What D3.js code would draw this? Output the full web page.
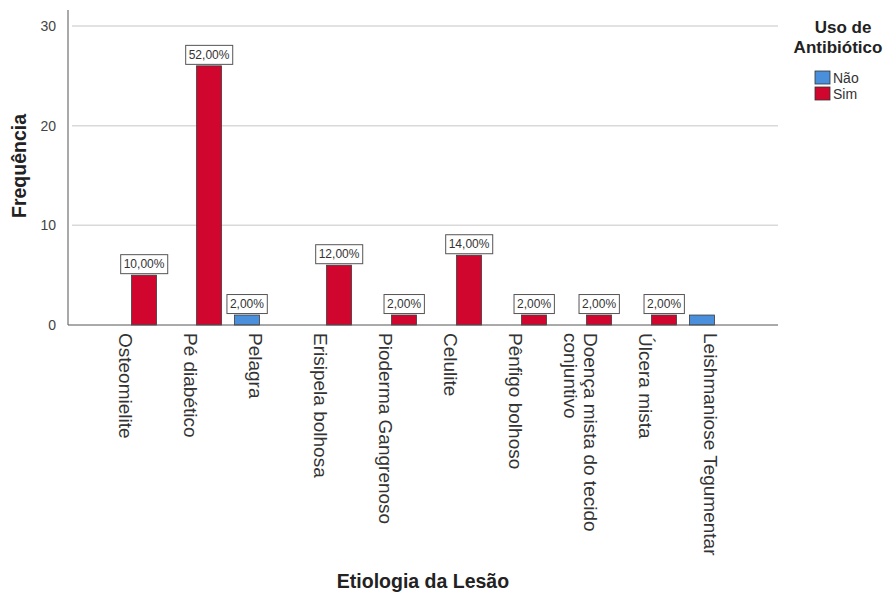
<!DOCTYPE html>
<html>
<head>
<meta charset="utf-8">
<script src="https://cdn.jsdelivr.net/npm/d3@7"></script>
<style>
  body { margin: 0; background: #fff; }
  text { font-family: "Liberation Sans", Arial, sans-serif; }
</style>
</head>
<body>
<script>
// categories on the x axis
var categories = ["Osteomielite", "Pé diabético", "Pelagra", "Erisipela bolhosa",
  "Pioderma Gangrenoso", "Celulite", "Pênfigo bolhoso",
  "Doença mista do tecido\nconjuntivo", "Úlcera mista", "Leishmaniose Tegumentar"];

// series (Uso de Antibiótico)
var subgroups = ["Não", "Sim"];
var naoValues = [0, 0, 1, 0, 0, 0, 0, 0, 0, 1];
var simValues = [5, 26, 0, 6, 1, 7, 1, 1, 1, 0];

// percentage boxes as shown (empty = not shown)
var naoLabels = ["", "", "2,00%", "", "", "", "", "", "", ""];
var simLabels = ["10,00%", "52,00%", "", "12,00%", "2,00%", "14,00%", "2,00%", "2,00%", "2,00%", ""];

var yTicks = [0, 10, 20, 30];
var colors = { "Não": "#4a8fdb", "Sim": "#d0062e" };

var W = 891, H = 594;
var plotLeft = 68, plotRight = 778;

var svg = d3.select("body").append("svg")
  .attr("width", W)
  .attr("height", H);

// scales
var x0 = d3.scaleBand().domain(categories).range([98, 748]);
var x1 = d3.scaleBand().domain(subgroups).range([6.5, 58.5]).paddingInner(0.08);
var y = d3.scaleLinear().domain([0, 30]).range([325, 26]);

// gridlines
svg.append("g").selectAll("line")
  .data(yTicks.filter(function(d) { return d > 0; }))
  .enter().append("line")
  .attr("x1", plotLeft + 4).attr("x2", plotRight)
  .attr("y1", function(d) { return y(d); })
  .attr("y2", function(d) { return y(d); })
  .attr("stroke", "#d9d9d9")
  .attr("stroke-width", 1.5);

// y axis
var yAxis = svg.append("g")
  .attr("transform", "translate(" + plotLeft + ",0)")
  .call(d3.axisLeft(y).tickValues(yTicks).tickSize(0).tickPadding(12));
yAxis.select(".domain").remove();
yAxis.selectAll("text")
  .attr("font-size", 14)
  .attr("fill", "#444")
  .style("font-family", "'Liberation Sans', Arial, sans-serif");
svg.append("line")
  .attr("x1", plotLeft).attr("x2", plotLeft)
  .attr("y1", 10).attr("y2", y(0))
  .attr("stroke", "#555");

// bars
var rows = categories.map(function(c, i) {
  return { cat: c, items: [
    { key: "Não", value: naoValues[i], label: naoLabels[i] },
    { key: "Sim", value: simValues[i], label: simLabels[i] }
  ] };
});

var groups = svg.append("g").selectAll("g")
  .data(rows)
  .enter().append("g")
  .attr("transform", function(d) { return "translate(" + x0(d.cat) + ",0)"; });

groups.selectAll("rect")
  .data(function(d) { return d.items.filter(function(b) { return b.value > 0; }); })
  .enter().append("rect")
  .attr("x", function(d) { return x1(d.key); })
  .attr("width", x1.bandwidth())
  .attr("y", function(d) { return y(d.value); })
  .attr("height", function(d) { return y(0) - y(d.value); })
  .attr("fill", function(d) { return colors[d.key]; })
  .attr("stroke", "#3a3a3a")
  .attr("stroke-width", 0.8);

// percentage boxes
var boxes = groups.selectAll("g.lab")
  .data(function(d) { return d.items.filter(function(b) { return b.label !== ""; }); })
  .enter().append("g")
  .attr("class", "lab")
  .attr("transform", function(d) {
    return "translate(" + (x1(d.key) + x1.bandwidth() / 2) + "," + (y(d.value) - 11) + ")";
  });

boxes.append("text")
  .attr("text-anchor", "middle")
  .attr("dominant-baseline", "central")
  .attr("font-size", 12)
  .attr("fill", "#333")
  .text(function(d) { return d.label; });

boxes.each(function() {
  var g = d3.select(this);
  var bb = g.select("text").node().getBBox();
  g.insert("rect", "text")
    .attr("x", bb.x - 3).attr("y", -9.5)
    .attr("width", bb.width + 6).attr("height", 19)
    .attr("fill", "#fff")
    .attr("stroke", "#555")
    .attr("stroke-width", 1);
});

// baseline
svg.append("line")
  .attr("x1", plotLeft).attr("x2", plotRight)
  .attr("y1", y(0)).attr("y2", y(0))
  .attr("stroke", "#555");

// x category labels, rotated
var lineH = 20;
svg.append("g").selectAll("text")
  .data(categories)
  .enter().append("text")
  .attr("transform", function(d) {
    return "translate(" + (x0(d) + 32.5 - 5) + ",333) rotate(90)";
  })
  .attr("font-size", 19)
  .attr("fill", "#333")
  .attr("dominant-baseline", "central")
  .each(function(d) {
    var lines = d.split("\n");
    var t = d3.select(this);
    lines.forEach(function(l, i) {
      t.append("tspan")
        .attr("x", 0)
        .attr("y", (i - (lines.length - 1) / 2) * lineH)
        .text(l);
    });
  });

// axis titles
svg.append("text")
  .attr("x", (plotLeft + plotRight) / 2)
  .attr("y", 588)
  .attr("text-anchor", "middle")
  .attr("font-size", 19.5)
  .attr("font-weight", "bold")
  .attr("fill", "#222")
  .text("Etiologia da Lesão");

svg.append("text")
  .attr("transform", "translate(26,166) rotate(-90)")
  .attr("text-anchor", "middle")
  .attr("font-size", 19.5)
  .attr("font-weight", "bold")
  .attr("fill", "#222")
  .text("Frequência");

// legend
var legend = svg.append("g");
legend.append("text")
  .attr("x", 843).attr("y", 33)
  .attr("text-anchor", "middle")
  .attr("font-size", 17)
  .attr("font-weight", "bold")
  .attr("fill", "#222")
  .text("Uso de");
legend.append("text")
  .attr("x", 838).attr("y", 53)
  .attr("text-anchor", "middle")
  .attr("font-size", 17)
  .attr("font-weight", "bold")
  .attr("fill", "#222")
  .text("Antibiótico");

var items = legend.selectAll("g.item")
  .data(subgroups)
  .enter().append("g")
  .attr("class", "item")
  .attr("transform", function(d, i) { return "translate(815," + (71 + i * 16) + ")"; });
items.append("rect")
  .attr("width", 15).attr("height", 13)
  .attr("fill", function(d) { return colors[d]; })
  .attr("stroke", "#333")
  .attr("stroke-width", 0.8);
items.append("text")
  .attr("x", 18).attr("y", 7)
  .attr("dominant-baseline", "central")
  .attr("font-size", 14)
  .attr("fill", "#333")
  .text(function(d) { return d; });
</script>
</body>
</html>
